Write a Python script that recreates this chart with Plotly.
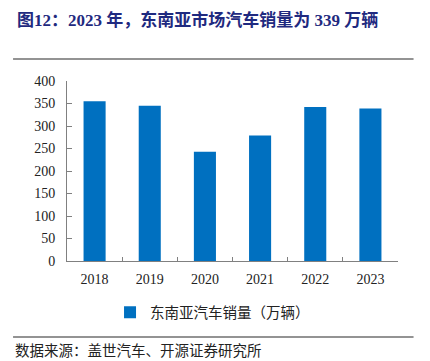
import plotly.graph_objects as go

years = ["2018", "2019", "2020", "2021", "2022", "2023"]
sales = [355, 345, 243, 279, 342, 339]
series_name = "东南亚汽车销量（万辆）"
title_text = "图12：2023 年，东南亚市场汽车销量为 339 万辆"
source_text = "数据来源：盖世汽车、开源证券研究所"
y_ticks = [0, 50, 100, 150, 200, 250, 300, 350, 400]

cjk = "Noto Sans CJK SC"
serif = "Liberation Serif"
mixed = "Liberation Serif, Noto Sans CJK SC"

fig = go.Figure()
fig.add_trace(go.Bar(x=years, y=sales, name=series_name,
                     marker=dict(color="#0070C0", line=dict(width=0)),
                     showlegend=True))

# page body keeps its default 8px margin, so the figure fills the rest of the window
fig.update_layout(
    width=422, height=353,
    margin=dict(l=59, r=32, t=73, b=100),
    paper_bgcolor="white", plot_bgcolor="white",
    bargap=0.6,
    showlegend=True,
    legend=dict(orientation="h", x=0.13, xanchor="left", y=-0.285, yanchor="middle",
                font=dict(family=cjk, size=14.5, color="#222222"),
                itemwidth=30, bgcolor="rgba(0,0,0,0)"),
    xaxis=dict(type="category", showline=True, linecolor="#808080", linewidth=1,
               ticks="inside", ticklen=4, tickcolor="#808080", tickson="boundaries",
               tickfont=dict(family=serif, size=14, color="#222222"),
               showgrid=False, zeroline=False, ticklabelstandoff=5),
    yaxis=dict(range=[0, 400], tickvals=y_ticks, showline=True, linecolor="#808080",
               linewidth=1, ticks="inside", ticklen=5, tickcolor="#808080",
               tickfont=dict(family=serif, size=14, color="#222222"),
               showgrid=False, zeroline=False, ticklabelstandoff=8),
    font=dict(family=cjk),
)

# divider lines drawn as headless annotation arrows (402 px long)
for yy in (1.122, -0.422):
    fig.add_annotation(text="", xref="paper", yref="paper", x=-0.163, y=yy,
                       ax=402, ay=0, axref="pixel", ayref="pixel",
                       showarrow=True, arrowhead=0, arrowwidth=1.5,
                       arrowcolor="#707070", standoff=0, startstandoff=0)

fig.add_annotation(text="<b>" + title_text + "</b>", xref="paper", yref="paper",
                   x=-0.157, y=1.339, xanchor="left", yanchor="middle",
                   showarrow=False,
                   font=dict(family=mixed, size=17, color="#1F2A80"))
fig.add_annotation(text=source_text, xref="paper", yref="paper",
                   x=-0.163, y=-0.489, xanchor="left", yanchor="middle",
                   showarrow=False, font=dict(family=cjk, size=14.5, color="#222222"))

fig.write_html("out.html", config={"displayModeBar": False})
